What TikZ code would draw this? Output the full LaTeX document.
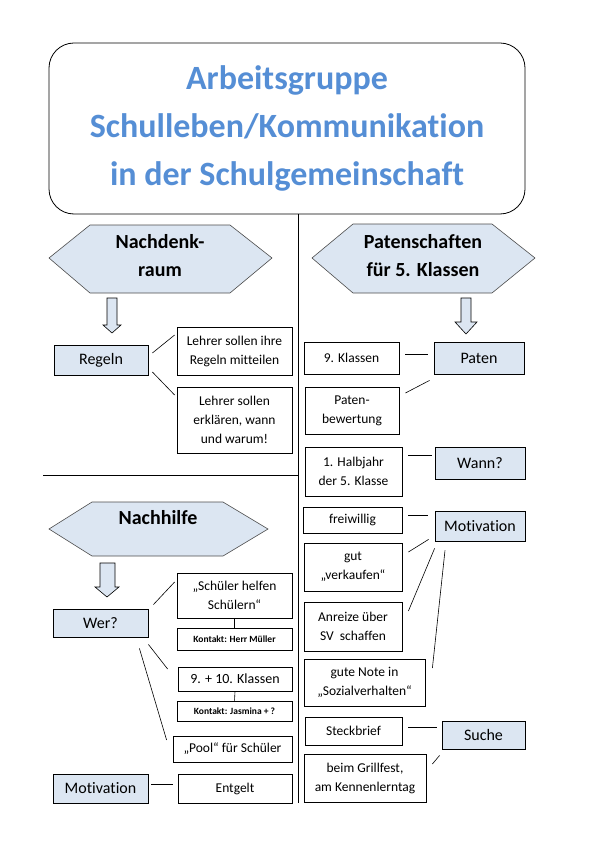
\documentclass[tikz,border=0pt]{standalone}
\usepackage{fontspec}
\setmainfont{Carlito}[Ligatures={NoCommon}]
\definecolor{titleblue}{HTML}{558ED5}
\definecolor{paleblue}{HTML}{DCE6F2}
\begin{document}
\begin{tikzpicture}[x=1pt,y=-1pt,
  box/.style={draw=black,line width=0.8pt,fill=white,inner sep=1pt,align=center,font=\fontsize{13.5}{19}\selectfont},
  bluebox/.style={box,fill=paleblue,font=\fontsize{16}{19}\selectfont},
  small/.style={box,font=\bfseries\fontsize{9.5}{10}\selectfont},
  hexa/.style={draw=black!70,line width=0.6pt,fill=paleblue},
  hextext/.style={align=center,font=\bfseries\fontsize{20}{28}\selectfont},
  blockarrow/.style={draw=black,line width=0.6pt,fill=paleblue},
  conn/.style={draw=black,line width=0.6pt}]
\useasboundingbox (0,0) rectangle (595,842);

% title
\node[draw=black,line width=0.8pt,rounded corners=25pt,minimum width=476pt,minimum height=171pt,
  text=titleblue,align=center,font=\bfseries\fontsize{34}{48}\selectfont] (title) at (287,128.5)
  {Arbeitsgruppe\\Schulleben/Kommunikation\\in der Schulgemeinschaft};

% dividers
\coordinate (vend) at (298,803);
\coordinate (hleft) at (43,475);
\coordinate (hright) at (298,475);
\draw[conn,line width=0.8pt] ([shift={(11,0)}]title.south) -- (vend);
\draw[conn,line width=0.8pt] (hleft) -- (hright);

% hexagons
\draw[hexa] (49,258) -- (90,225) -- (230,225) -- (272,258) -- (230,293) -- (90,293) -- cycle;
\node[hextext] (hexA) at (160,256) {Nachdenk-\\raum};
\draw[hexa] (312,258) -- (353,224) -- (492,224) -- (535,258) -- (492,293) -- (353,293) -- cycle;
\node[hextext] (hexB) at (423,256) {Patenschaften\\für 5. Klassen};
\draw[hexa] (49,529) -- (92,502) -- (223,502) -- (268,529) -- (223,556) -- (92,556) -- cycle;
\node[hextext] (hexC) at (158,518) {Nachhilfe};

% block arrows
\draw[blockarrow] (107,298) -- (117,298) -- (117,325) -- (121,325) -- (112,333) -- (103,325) -- (107,325) -- cycle;
\draw[blockarrow] (461,298) -- (471,298) -- (471,322) -- (477,322) -- (466,334) -- (455,322) -- (461,322) -- cycle;
\draw[blockarrow] (100,563) -- (115,563) -- (115,587) -- (119,587) -- (107,597) -- (95,587) -- (100,587) -- cycle;

% Nachdenkraum
\node[bluebox,minimum width=94pt,minimum height=30pt] (regeln) at (101,360) {Regeln};
\node[box,minimum width=115pt,minimum height=48pt] (l1) at (234.5,351) {Lehrer sollen ihre\\Regeln mitteilen};
\node[box,minimum width=115pt,minimum height=66pt] (l2) at (234.5,420) {Lehrer sollen\\erklären, wann\\und warum!};
\draw[conn] ([shift={(4,-7)}]regeln.east) -- ([shift={(-2,-16)}]l1.west);
\draw[conn] ([shift={(4,12)}]regeln.east) -- ([shift={(-2,-25)}]l2.west);

% Patenschaften
\node[box,minimum width=95pt,minimum height=32pt] (k9) at (351.5,358) {9. Klassen};
\node[bluebox,minimum width=90pt,minimum height=32pt] (paten) at (479,358) {Paten};
\draw[conn] ([shift={(6,-4)}]k9.east) -- ([shift={(-6,-4)}]paten.west);
\node[box,minimum width=94pt,minimum height=47pt] (patbew) at (352,410.5) {Paten-\\bewertung};
\draw[conn] ([shift={(6,-17.5)}]patbew.east) -- ([shift={(-4,6)}]paten.south west);
\node[box,minimum width=97pt,minimum height=49pt] (halb) at (353.5,471.5) {1. Halbjahr\\der 5. Klasse};
\node[bluebox,minimum width=90pt,minimum height=32pt] (wann) at (480,463) {Wann?};
\draw[conn] ([shift={(6,-16.5)}]halb.east) -- ([shift={(-3,-8)}]wann.west);
\node[box,minimum width=99pt,minimum height=26pt] (frei) at (352.5,520) {freiwillig};
\node[bluebox,minimum width=90pt,minimum height=30pt] (motR) at (480,526) {Motivation};
\draw[conn] ([shift={(6,-5)}]frei.east) -- ([shift={(-7,-11)}]motR.west);
\node[box,minimum width=98pt,minimum height=48pt] (gut) at (353,567) {gut\\„verkaufen“};
\draw[conn] ([shift={(6,-15)}]gut.east) -- ([shift={(-6,-2)}]motR.south west);
\node[box,minimum width=98pt,minimum height=49pt] (anreize) at (353,626.5) {Anreize über\\SV~~schaffen};
\draw[conn] ([shift={(6,-15.5)}]anreize.east) -- ([shift={(0,7)}]motR.south west);
\node[box,minimum width=121pt,minimum height=47pt] (note) at (364.5,682.5) {gute Note in\\„Sozialverhalten“};
\draw[conn] ([shift={(7,-14.5)}]note.east) -- ([shift={(-35,9)}]motR.south);
\node[box,minimum width=97pt,minimum height=28pt] (steck) at (353.5,731) {Steckbrief};
\node[bluebox,minimum width=83pt,minimum height=28pt] (suche) at (483.5,735) {Suche};
\draw[conn] ([shift={(6,-4)}]steck.east) -- ([shift={(-5,-8)}]suche.west);
\node[box,minimum width=122pt,minimum height=48pt] (grill) at (365,778) {beim Grillfest,\\am Kennenlerntag};
\draw[conn] ([shift={(6,-14)}]grill.east) -- ([shift={(-2,6)}]suche.south west);

% Nachhilfe
\node[bluebox,minimum width=95pt,minimum height=28pt] (wer) at (100.5,623) {Wer?};
\node[box,minimum width=115pt,minimum height=45pt] (shs) at (234.5,595.5) {„Schüler helfen\\Schülern“};
\node[small,minimum width=115pt,minimum height=22pt] (km) at (234.5,639) {Kontakt: Herr Müller};
\draw[conn] (shs.south) -- (km.north);
\draw[conn] ([shift={(5,-4)}]wer.north east) -- ([shift={(-2,-13.5)}]shs.west);
\node[box,minimum width=114pt,minimum height=24pt,font=\fontsize{14}{16}\selectfont] (k910) at (235,679) {9. + 10. Klassen};
\node[small,minimum width=115pt,minimum height=20pt] (kj) at (234.5,711) {Kontakt: Jasmina + ?};
\draw[conn] (k910.south) -- (kj.north);
\node[box,minimum width=119pt,minimum height=26pt] (pool) at (232.5,749) {„Pool“ für Schüler};
\draw[conn] ([shift={(0,7)}]wer.south east) -- ([shift={(-10,-10)}]k910.west);
\draw[conn] ([shift={(-9,11)}]wer.south east) -- ([shift={(-6,-9)}]pool.west);
\node[bluebox,minimum width=95pt,minimum height=29pt] (motL) at (100.5,788.5) {Motivation};
\node[box,minimum width=114pt,minimum height=29pt] (entgelt) at (235,788.5) {Entgelt};
\draw[conn] ([shift={(3,-4.5)}]motL.east) -- ([shift={(-5,-4.5)}]entgelt.west);
\end{tikzpicture}
\end{document}
